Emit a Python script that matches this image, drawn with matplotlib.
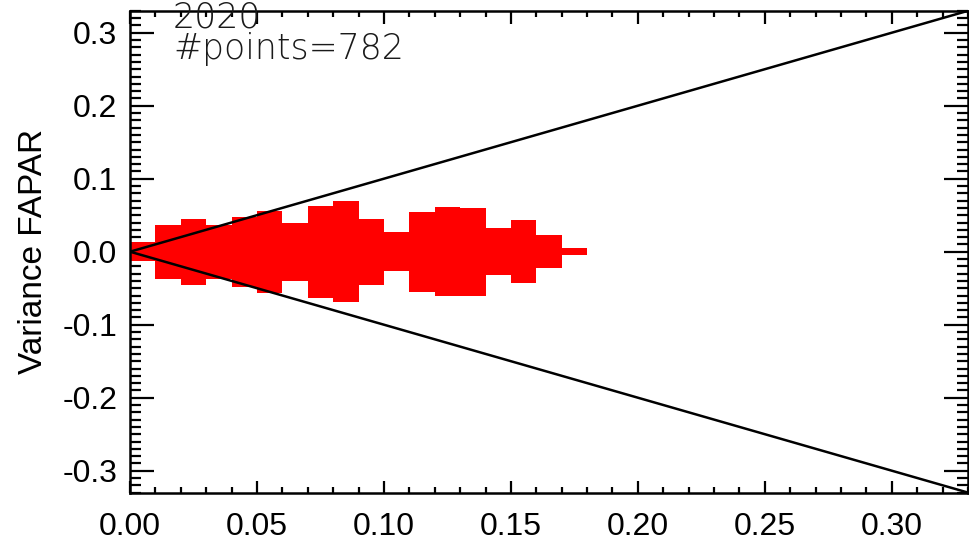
import numpy as np
import matplotlib.pyplot as plt
from matplotlib.ticker import MultipleLocator

# bin left edges and half spread of each red bar
bin_left = [0.00, 0.01, 0.02, 0.03, 0.04, 0.05, 0.06, 0.07, 0.08,
            0.09, 0.10, 0.11, 0.12, 0.13, 0.14, 0.15, 0.16, 0.17]
half_spread = [0.013, 0.037, 0.045, 0.037, 0.048, 0.056, 0.040, 0.063, 0.069,
               0.045, 0.027, 0.055, 0.061, 0.060, 0.032, 0.043, 0.023, 0.005]
bin_width = 0.01

line_x = [0.0, 0.33]
upper_y = [0.0, 0.33]
lower_y = [0.0, -0.33]

x_ticks = [0.00, 0.05, 0.10, 0.15, 0.20, 0.25, 0.30]
y_ticks = [-0.3, -0.2, -0.1, 0.0, 0.1, 0.2, 0.3]

year_label = "2020"
points_label = "#points=782"

plt.rcParams['font.family'] = ['Liberation Sans', 'DejaVu Sans']

fig = plt.figure(figsize=(9.69, 5.41), dpi=100)
ax = fig.add_axes([130 / 969, 48.4 / 541, 838 / 969, 481.8 / 541])

hs = np.array(half_spread)
ax.bar(bin_left, 2 * hs, bottom=-hs, width=bin_width, align='edge',
       color='#ff0000', linewidth=0, zorder=2)

ax.plot(line_x, upper_y, color='black', linewidth=1.8, zorder=3)
ax.plot(line_x, lower_y, color='black', linewidth=1.8, zorder=3)

ax.set_xlim(0, 0.33)
ax.set_ylim(-0.33, 0.33)
ax.set_xticks(x_ticks)
ax.set_xticklabels([f"{v:.2f}" for v in x_ticks])
ax.set_yticks(y_ticks)
ax.set_yticklabels([f"{v:.1f}" for v in y_ticks])
ax.xaxis.set_minor_locator(MultipleLocator(0.01))
ax.yaxis.set_minor_locator(MultipleLocator(0.01))

ax.tick_params(axis='both', which='both', direction='in', top=True, right=True,
               labelsize=23, width=1.6, colors='black')
ax.tick_params(axis='x', which='major', length=9, pad=14)
ax.tick_params(axis='x', which='minor', length=4.5)
ax.tick_params(axis='y', which='major', length=17, pad=9)
ax.tick_params(axis='y', which='minor', length=8)

for sp in ax.spines.values():
    sp.set_linewidth(1.8)

ax.set_ylabel("Variance FAPAR", fontsize=24, labelpad=10)

# annotation in a thin wide face, like the IDL vector font
txt_style = dict(fontsize=25, family='DejaVu Sans', fontweight=200,
                 va='baseline', ha='left', color='#1a1a1a')
fig.text(173 / 969, (541 - 28) / 541, year_label, **txt_style)
fig.text(173 / 969, (541 - 59) / 541, points_label, **txt_style)

fig.savefig("out.png", dpi=100)
